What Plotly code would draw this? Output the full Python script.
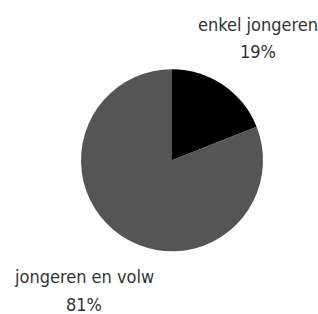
import plotly.graph_objects as go

categories = ["enkel jongeren", "jongeren en volw"]
values = [19, 81]
colors = ["#000000", "#555555"]

W, H = 318, 314
total = sum(values)
pcts = [f"{round(v / total * 100)}%" for v in values]

fig = go.Figure(go.Pie(
    labels=categories,
    values=values,
    sort=False,
    direction="clockwise",
    rotation=0,
    marker=dict(colors=colors, line=dict(width=0)),
    textinfo="none",
    hoverinfo="label+percent",
    domain=dict(x=[81 / W, 263 / W], y=[1 - 251.5 / H, 1 - 69 / H]),
    showlegend=False,
))

font = dict(family="DejaVu Sans Condensed", size=18, color="#333333")
# label positions (pixel centers)
label_pos = [(258, 25, 52), (84, 276, 304)]
ann = []
for cat, pct, (x, y1, y2) in zip(categories, pcts, label_pos):
    ann.append(dict(text=cat, x=x / W, y=1 - y1 / H, xref="paper", yref="paper",
                    showarrow=False, xanchor="center", yanchor="middle", font=font))
    ann.append(dict(text=pct, x=x / W, y=1 - y2 / H, xref="paper", yref="paper",
                    showarrow=False, xanchor="center", yanchor="middle", font=font))

fig.update_layout(
    width=W, height=H,
    margin=dict(l=0, r=0, t=0, b=0),
    paper_bgcolor="white",
    plot_bgcolor="white",
    annotations=ann,
)

fig.write_html(
    "out.html",
    config={"displayModeBar": False},
    post_script="document.body.style.margin='0';document.body.style.overflow='hidden';",
)
